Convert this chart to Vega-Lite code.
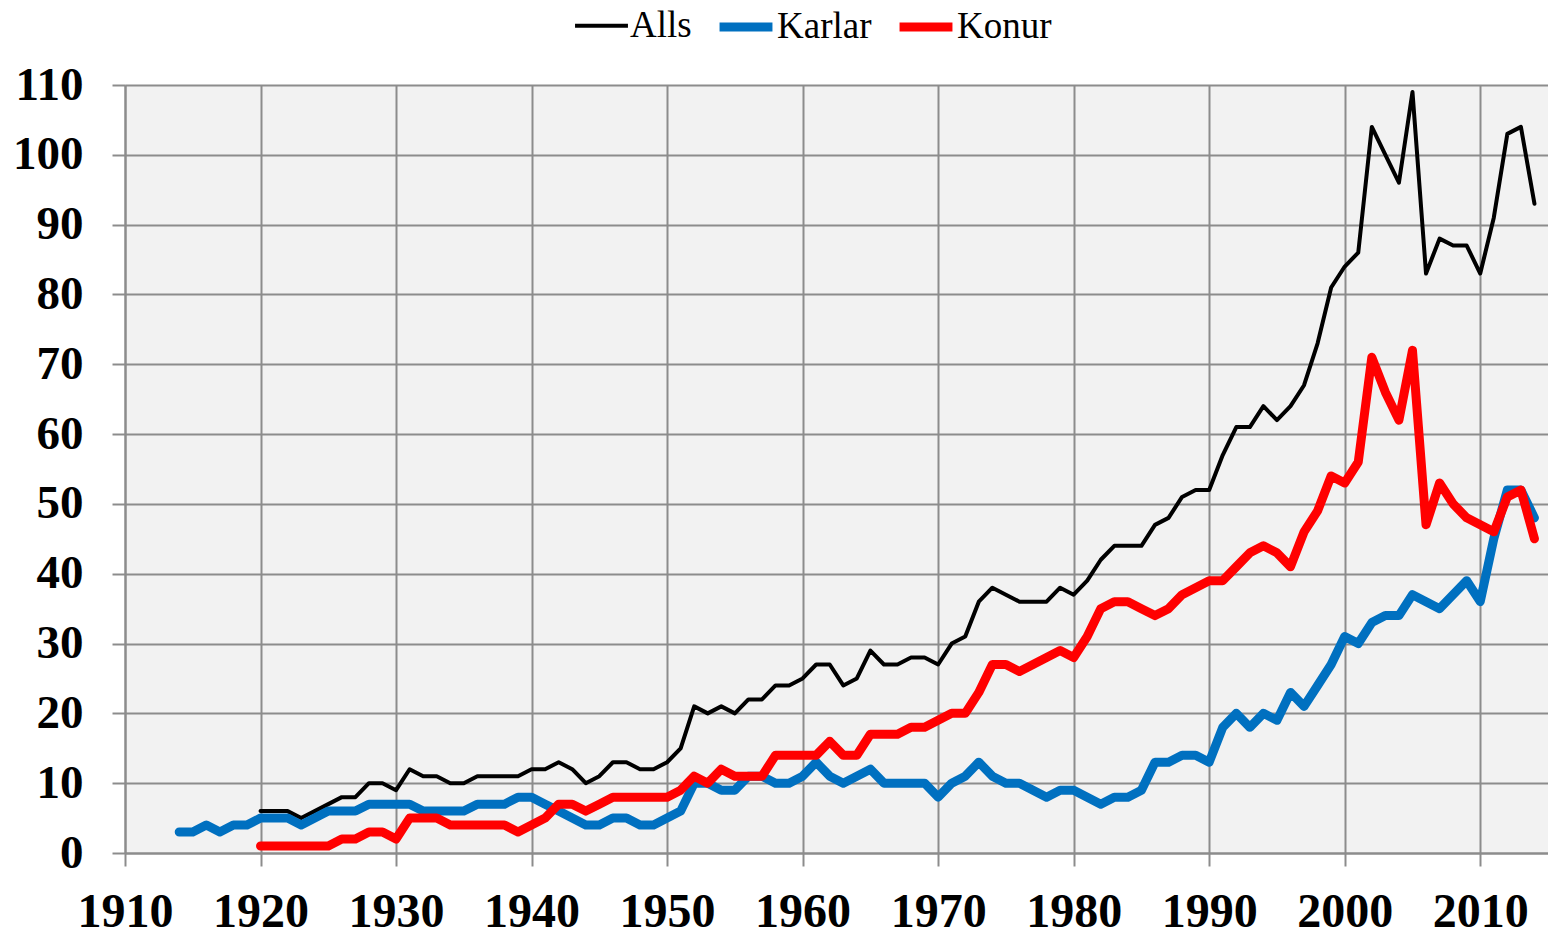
{
  "$schema": "https://vega.github.io/schema/vega-lite/v6.json",
  "width": 1423,
  "height": 768,
  "autosize": {"type": "none"},
  "padding": {"left": 125, "top": 85, "right": 0, "bottom": 82},
  "background": "white",
  "config": {
    "view": {"fill": "#f2f2f2", "stroke": null},
    "axis": {
      "gridColor": "#8c8c8c", "gridWidth": 2, "gridOpacity": 1,
      "domainColor": "#8c8c8c", "domainWidth": 2,
      "tickColor": "#8c8c8c", "tickWidth": 2, "tickSize": 13,
      "labelFont": "Liberation Serif", "labelFontWeight": "bold", "labelColor": "black",
      "title": null
    },
    "legend": {
      "labelFont": "Liberation Serif", "labelFontSize": 37, "labelColor": "black",
      "symbolType": "stroke", "symbolSize": 2800, "labelOffset": 0,
      "columnPadding": 9, "padding": 0, "title": null
    }
  },
  "data": {"values": [
    {"year":1920,"series":"Alls","value":6},{"year":1921,"series":"Alls","value":6},{"year":1922,"series":"Alls","value":6},{"year":1923,"series":"Alls","value":5},{"year":1924,"series":"Alls","value":6},{"year":1925,"series":"Alls","value":7},{"year":1926,"series":"Alls","value":8},{"year":1927,"series":"Alls","value":8},{"year":1928,"series":"Alls","value":10},{"year":1929,"series":"Alls","value":10},
    {"year":1930,"series":"Alls","value":9},{"year":1931,"series":"Alls","value":12},{"year":1932,"series":"Alls","value":11},{"year":1933,"series":"Alls","value":11},{"year":1934,"series":"Alls","value":10},{"year":1935,"series":"Alls","value":10},{"year":1936,"series":"Alls","value":11},{"year":1937,"series":"Alls","value":11},{"year":1938,"series":"Alls","value":11},{"year":1939,"series":"Alls","value":11},
    {"year":1940,"series":"Alls","value":12},{"year":1941,"series":"Alls","value":12},{"year":1942,"series":"Alls","value":13},{"year":1943,"series":"Alls","value":12},{"year":1944,"series":"Alls","value":10},{"year":1945,"series":"Alls","value":11},{"year":1946,"series":"Alls","value":13},{"year":1947,"series":"Alls","value":13},{"year":1948,"series":"Alls","value":12},{"year":1949,"series":"Alls","value":12},
    {"year":1950,"series":"Alls","value":13},{"year":1951,"series":"Alls","value":15},{"year":1952,"series":"Alls","value":21},{"year":1953,"series":"Alls","value":20},{"year":1954,"series":"Alls","value":21},{"year":1955,"series":"Alls","value":20},{"year":1956,"series":"Alls","value":22},{"year":1957,"series":"Alls","value":22},{"year":1958,"series":"Alls","value":24},{"year":1959,"series":"Alls","value":24},
    {"year":1960,"series":"Alls","value":25},{"year":1961,"series":"Alls","value":27},{"year":1962,"series":"Alls","value":27},{"year":1963,"series":"Alls","value":24},{"year":1964,"series":"Alls","value":25},{"year":1965,"series":"Alls","value":29},{"year":1966,"series":"Alls","value":27},{"year":1967,"series":"Alls","value":27},{"year":1968,"series":"Alls","value":28},{"year":1969,"series":"Alls","value":28},
    {"year":1970,"series":"Alls","value":27},{"year":1971,"series":"Alls","value":30},{"year":1972,"series":"Alls","value":31},{"year":1973,"series":"Alls","value":36},{"year":1974,"series":"Alls","value":38},{"year":1975,"series":"Alls","value":37},{"year":1976,"series":"Alls","value":36},{"year":1977,"series":"Alls","value":36},{"year":1978,"series":"Alls","value":36},{"year":1979,"series":"Alls","value":38},
    {"year":1980,"series":"Alls","value":37},{"year":1981,"series":"Alls","value":39},{"year":1982,"series":"Alls","value":42},{"year":1983,"series":"Alls","value":44},{"year":1984,"series":"Alls","value":44},{"year":1985,"series":"Alls","value":44},{"year":1986,"series":"Alls","value":47},{"year":1987,"series":"Alls","value":48},{"year":1988,"series":"Alls","value":51},{"year":1989,"series":"Alls","value":52},
    {"year":1990,"series":"Alls","value":52},{"year":1991,"series":"Alls","value":57},{"year":1992,"series":"Alls","value":61},{"year":1993,"series":"Alls","value":61},{"year":1994,"series":"Alls","value":64},{"year":1995,"series":"Alls","value":62},{"year":1996,"series":"Alls","value":64},{"year":1997,"series":"Alls","value":67},{"year":1998,"series":"Alls","value":73},{"year":1999,"series":"Alls","value":81},
    {"year":2000,"series":"Alls","value":84},{"year":2001,"series":"Alls","value":86},{"year":2002,"series":"Alls","value":104},{"year":2003,"series":"Alls","value":100},{"year":2004,"series":"Alls","value":96},{"year":2005,"series":"Alls","value":109},{"year":2006,"series":"Alls","value":83},{"year":2007,"series":"Alls","value":88},{"year":2008,"series":"Alls","value":87},{"year":2009,"series":"Alls","value":87},
    {"year":2010,"series":"Alls","value":83},{"year":2011,"series":"Alls","value":91},{"year":2012,"series":"Alls","value":103},{"year":2013,"series":"Alls","value":104},{"year":2014,"series":"Alls","value":93},

    {"year":1914,"series":"Karlar","value":3},{"year":1915,"series":"Karlar","value":3},{"year":1916,"series":"Karlar","value":4},{"year":1917,"series":"Karlar","value":3},{"year":1918,"series":"Karlar","value":4},{"year":1919,"series":"Karlar","value":4},
    {"year":1920,"series":"Karlar","value":5},{"year":1921,"series":"Karlar","value":5},{"year":1922,"series":"Karlar","value":5},{"year":1923,"series":"Karlar","value":4},{"year":1924,"series":"Karlar","value":5},{"year":1925,"series":"Karlar","value":6},{"year":1926,"series":"Karlar","value":6},{"year":1927,"series":"Karlar","value":6},{"year":1928,"series":"Karlar","value":7},{"year":1929,"series":"Karlar","value":7},
    {"year":1930,"series":"Karlar","value":7},{"year":1931,"series":"Karlar","value":7},{"year":1932,"series":"Karlar","value":6},{"year":1933,"series":"Karlar","value":6},{"year":1934,"series":"Karlar","value":6},{"year":1935,"series":"Karlar","value":6},{"year":1936,"series":"Karlar","value":7},{"year":1937,"series":"Karlar","value":7},{"year":1938,"series":"Karlar","value":7},{"year":1939,"series":"Karlar","value":8},
    {"year":1940,"series":"Karlar","value":8},{"year":1941,"series":"Karlar","value":7},{"year":1942,"series":"Karlar","value":6},{"year":1943,"series":"Karlar","value":5},{"year":1944,"series":"Karlar","value":4},{"year":1945,"series":"Karlar","value":4},{"year":1946,"series":"Karlar","value":5},{"year":1947,"series":"Karlar","value":5},{"year":1948,"series":"Karlar","value":4},{"year":1949,"series":"Karlar","value":4},
    {"year":1950,"series":"Karlar","value":5},{"year":1951,"series":"Karlar","value":6},{"year":1952,"series":"Karlar","value":10},{"year":1953,"series":"Karlar","value":10},{"year":1954,"series":"Karlar","value":9},{"year":1955,"series":"Karlar","value":9},{"year":1956,"series":"Karlar","value":11},{"year":1957,"series":"Karlar","value":11},{"year":1958,"series":"Karlar","value":10},{"year":1959,"series":"Karlar","value":10},
    {"year":1960,"series":"Karlar","value":11},{"year":1961,"series":"Karlar","value":13},{"year":1962,"series":"Karlar","value":11},{"year":1963,"series":"Karlar","value":10},{"year":1964,"series":"Karlar","value":11},{"year":1965,"series":"Karlar","value":12},{"year":1966,"series":"Karlar","value":10},{"year":1967,"series":"Karlar","value":10},{"year":1968,"series":"Karlar","value":10},{"year":1969,"series":"Karlar","value":10},
    {"year":1970,"series":"Karlar","value":8},{"year":1971,"series":"Karlar","value":10},{"year":1972,"series":"Karlar","value":11},{"year":1973,"series":"Karlar","value":13},{"year":1974,"series":"Karlar","value":11},{"year":1975,"series":"Karlar","value":10},{"year":1976,"series":"Karlar","value":10},{"year":1977,"series":"Karlar","value":9},{"year":1978,"series":"Karlar","value":8},{"year":1979,"series":"Karlar","value":9},
    {"year":1980,"series":"Karlar","value":9},{"year":1981,"series":"Karlar","value":8},{"year":1982,"series":"Karlar","value":7},{"year":1983,"series":"Karlar","value":8},{"year":1984,"series":"Karlar","value":8},{"year":1985,"series":"Karlar","value":9},{"year":1986,"series":"Karlar","value":13},{"year":1987,"series":"Karlar","value":13},{"year":1988,"series":"Karlar","value":14},{"year":1989,"series":"Karlar","value":14},
    {"year":1990,"series":"Karlar","value":13},{"year":1991,"series":"Karlar","value":18},{"year":1992,"series":"Karlar","value":20},{"year":1993,"series":"Karlar","value":18},{"year":1994,"series":"Karlar","value":20},{"year":1995,"series":"Karlar","value":19},{"year":1996,"series":"Karlar","value":23},{"year":1997,"series":"Karlar","value":21},{"year":1998,"series":"Karlar","value":24},{"year":1999,"series":"Karlar","value":27},
    {"year":2000,"series":"Karlar","value":31},{"year":2001,"series":"Karlar","value":30},{"year":2002,"series":"Karlar","value":33},{"year":2003,"series":"Karlar","value":34},{"year":2004,"series":"Karlar","value":34},{"year":2005,"series":"Karlar","value":37},{"year":2006,"series":"Karlar","value":36},{"year":2007,"series":"Karlar","value":35},{"year":2008,"series":"Karlar","value":37},{"year":2009,"series":"Karlar","value":39},
    {"year":2010,"series":"Karlar","value":36},{"year":2011,"series":"Karlar","value":45},{"year":2012,"series":"Karlar","value":52},{"year":2013,"series":"Karlar","value":52},{"year":2014,"series":"Karlar","value":48},

    {"year":1920,"series":"Konur","value":1},{"year":1921,"series":"Konur","value":1},{"year":1922,"series":"Konur","value":1},{"year":1923,"series":"Konur","value":1},{"year":1924,"series":"Konur","value":1},{"year":1925,"series":"Konur","value":1},{"year":1926,"series":"Konur","value":2},{"year":1927,"series":"Konur","value":2},{"year":1928,"series":"Konur","value":3},{"year":1929,"series":"Konur","value":3},
    {"year":1930,"series":"Konur","value":2},{"year":1931,"series":"Konur","value":5},{"year":1932,"series":"Konur","value":5},{"year":1933,"series":"Konur","value":5},{"year":1934,"series":"Konur","value":4},{"year":1935,"series":"Konur","value":4},{"year":1936,"series":"Konur","value":4},{"year":1937,"series":"Konur","value":4},{"year":1938,"series":"Konur","value":4},{"year":1939,"series":"Konur","value":3},
    {"year":1940,"series":"Konur","value":4},{"year":1941,"series":"Konur","value":5},{"year":1942,"series":"Konur","value":7},{"year":1943,"series":"Konur","value":7},{"year":1944,"series":"Konur","value":6},{"year":1945,"series":"Konur","value":7},{"year":1946,"series":"Konur","value":8},{"year":1947,"series":"Konur","value":8},{"year":1948,"series":"Konur","value":8},{"year":1949,"series":"Konur","value":8},
    {"year":1950,"series":"Konur","value":8},{"year":1951,"series":"Konur","value":9},{"year":1952,"series":"Konur","value":11},{"year":1953,"series":"Konur","value":10},{"year":1954,"series":"Konur","value":12},{"year":1955,"series":"Konur","value":11},{"year":1956,"series":"Konur","value":11},{"year":1957,"series":"Konur","value":11},{"year":1958,"series":"Konur","value":14},{"year":1959,"series":"Konur","value":14},
    {"year":1960,"series":"Konur","value":14},{"year":1961,"series":"Konur","value":14},{"year":1962,"series":"Konur","value":16},{"year":1963,"series":"Konur","value":14},{"year":1964,"series":"Konur","value":14},{"year":1965,"series":"Konur","value":17},{"year":1966,"series":"Konur","value":17},{"year":1967,"series":"Konur","value":17},{"year":1968,"series":"Konur","value":18},{"year":1969,"series":"Konur","value":18},
    {"year":1970,"series":"Konur","value":19},{"year":1971,"series":"Konur","value":20},{"year":1972,"series":"Konur","value":20},{"year":1973,"series":"Konur","value":23},{"year":1974,"series":"Konur","value":27},{"year":1975,"series":"Konur","value":27},{"year":1976,"series":"Konur","value":26},{"year":1977,"series":"Konur","value":27},{"year":1978,"series":"Konur","value":28},{"year":1979,"series":"Konur","value":29},
    {"year":1980,"series":"Konur","value":28},{"year":1981,"series":"Konur","value":31},{"year":1982,"series":"Konur","value":35},{"year":1983,"series":"Konur","value":36},{"year":1984,"series":"Konur","value":36},{"year":1985,"series":"Konur","value":35},{"year":1986,"series":"Konur","value":34},{"year":1987,"series":"Konur","value":35},{"year":1988,"series":"Konur","value":37},{"year":1989,"series":"Konur","value":38},
    {"year":1990,"series":"Konur","value":39},{"year":1991,"series":"Konur","value":39},{"year":1992,"series":"Konur","value":41},{"year":1993,"series":"Konur","value":43},{"year":1994,"series":"Konur","value":44},{"year":1995,"series":"Konur","value":43},{"year":1996,"series":"Konur","value":41},{"year":1997,"series":"Konur","value":46},{"year":1998,"series":"Konur","value":49},{"year":1999,"series":"Konur","value":54},
    {"year":2000,"series":"Konur","value":53},{"year":2001,"series":"Konur","value":56},{"year":2002,"series":"Konur","value":71},{"year":2003,"series":"Konur","value":66},{"year":2004,"series":"Konur","value":62},{"year":2005,"series":"Konur","value":72},{"year":2006,"series":"Konur","value":47},{"year":2007,"series":"Konur","value":53},{"year":2008,"series":"Konur","value":50},{"year":2009,"series":"Konur","value":48},
    {"year":2010,"series":"Konur","value":47},{"year":2011,"series":"Konur","value":46},{"year":2012,"series":"Konur","value":51},{"year":2013,"series":"Konur","value":52},{"year":2014,"series":"Konur","value":45}
  ]},
  "mark": {"type": "line", "strokeCap": "round", "strokeJoin": "round"},
  "encoding": {
    "x": {
      "field": "year", "type": "quantitative",
      "scale": {"domain": [1910, 2015], "nice": false, "zero": false},
      "axis": {"values": [1910,1920,1930,1940,1950,1960,1970,1980,1990,2000,2010], "format": "d", "labelFontSize": 48, "labelBaseline": "alphabetic", "labelPadding": 60, "labelFlush": false, "labelOverlap": false}
    },
    "y": {
      "field": "value", "type": "quantitative",
      "scale": {"domain": [0, 110], "nice": false},
      "axis": {"values": [0,10,20,30,40,50,60,70,80,90,100,110], "labelFontSize": 47, "labelPadding": 29, "labelBaseline": "middle", "labelFlush": false, "labelOverlap": false}
    },
    "color": {
      "field": "series", "type": "nominal",
      "scale": {"domain": ["Alls", "Karlar", "Konur"], "range": ["#000000", "#0070c0", "#ff0000"]},
      "legend": {"orient": "none", "direction": "horizontal", "legendX": 448, "legendY": -89}
    },
    "strokeWidth": {
      "field": "series", "type": "nominal",
      "scale": {"type": "ordinal", "domain": ["Alls", "Karlar", "Konur"], "range": [4, 9, 9]},
      "legend": {"orient": "none", "direction": "horizontal", "legendX": 448, "legendY": -89}
    },
    "order": {"field": "year", "type": "quantitative"}
  }
}
